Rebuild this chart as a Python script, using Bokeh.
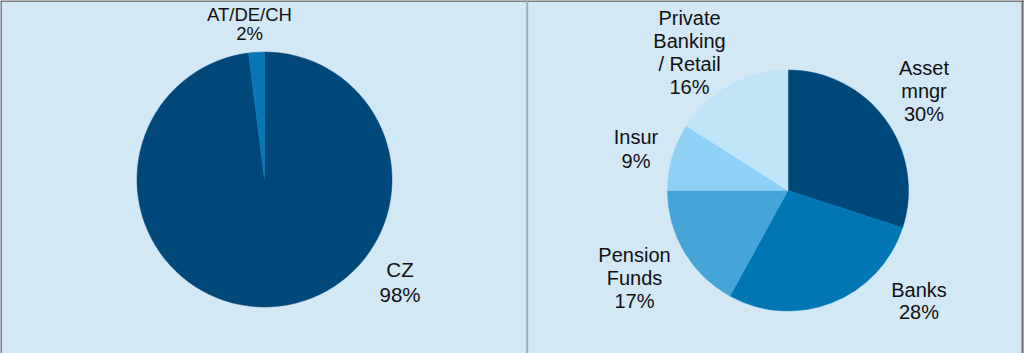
import math
from bokeh.plotting import figure
from bokeh.models import Span, ColumnDataSource
from bokeh.core.properties import value
from bokeh.embed import file_html
from bokeh.resources import INLINE

# ---- data ----
left_labels = ["CZ", "AT/DE/CH"]
left_values = [98, 2]
left_colors = ["#00477a", "#0a77b5"]

right_labels = ["Asset\nmngr", "Banks", "Pension\nFunds", "Insur", "Private\nBanking\n/ Retail"]
right_values = [30, 28, 17, 9, 16]
right_colors = ["#00477a", "#0077b4", "#45a5d9", "#8ed1f5", "#c1e4f9"]

# ---- layout (pixel positions, y measured from top) ----
W, H = 1024, 353
BG = "#d2e8f5"
SHIFT = 6.5
left_pie = dict(cx=264, cy=179, r=127.5)
right_pie = dict(cx=787.5, cy=190, r=120.5)
# label anchors: (center x, first baseline y from top, line spacing, font px)
left_label_pos = [(399.5, 275.0, 25.5, "20.5px"), (249.0, 20.0, 19.3, "18.5px")]
right_label_pos = [(923.5, 73.5, 23.3, "20px"), (918.5, 295.7, 22.6, "20px"),
                   (634.0, 260.7, 23.3, "20px"), (635.5, 143.3, 24.0, "20px"),
                   (689.0, 24.0, 23.1, "20px")]

p = figure(width=W, height=H, x_range=(0, W), y_range=(0, H),
           output_backend="svg", toolbar_location=None, min_border=0)
p.axis.visible = False
p.grid.visible = False
p.outline_line_color = None
p.background_fill_color = BG
p.border_fill_color = BG


def draw_pie(labels, values, colors, pie, label_pos):
    total = float(sum(values))
    starts, ends = [], []
    cum = 0.0
    for v in values:
        starts.append(math.pi / 2 - 2 * math.pi * cum / total)
        cum += v
        ends.append(math.pi / 2 - 2 * math.pi * cum / total)
    src = ColumnDataSource(dict(start=starts, end=ends, color=colors))
    p.wedge(x=pie["cx"], y=H - pie["cy"], radius=pie["r"], start_angle="start",
            end_angle="end", direction="clock", fill_color="color",
            line_color="color", line_width=0.5, source=src)
    xs, ys, ts, fs = [], [], [], []
    for lab, v, (x, y0, dy, fsz) in zip(labels, values, label_pos):
        lines = lab.split("\n") + [f"{v}%"]
        for i, ln in enumerate(lines):
            xs.append(x)
            ys.append(H - (y0 - SHIFT + i * dy))
            ts.append(ln)
            fs.append(fsz)
    tsrc = ColumnDataSource(dict(x=xs, y=ys, text=ts, fs=fs))
    p.text(x="x", y="y", text="text", source=tsrc, text_align="center",
           text_baseline="alphabetic", text_font=value("Liberation Sans"),
           text_font_size="fs", text_color="#111111")


draw_pie(left_labels, left_values, left_colors, left_pie, left_label_pos)
draw_pie(right_labels, right_values, right_colors, right_pie, right_label_pos)

# frame lines
p.add_layout(Span(location=H, dimension="width", line_color="#7f7f7f", line_width=3))
p.add_layout(Span(location=0, dimension="height", line_color="#7f7f7f", line_width=3))
p.add_layout(Span(location=526.7, dimension="height", line_color="#a3abb3", line_width=2))
p.add_layout(Span(location=1022, dimension="height", line_color="#6f6f6f", line_width=2))

open("out.html", "w").write(file_html(p, INLINE))
